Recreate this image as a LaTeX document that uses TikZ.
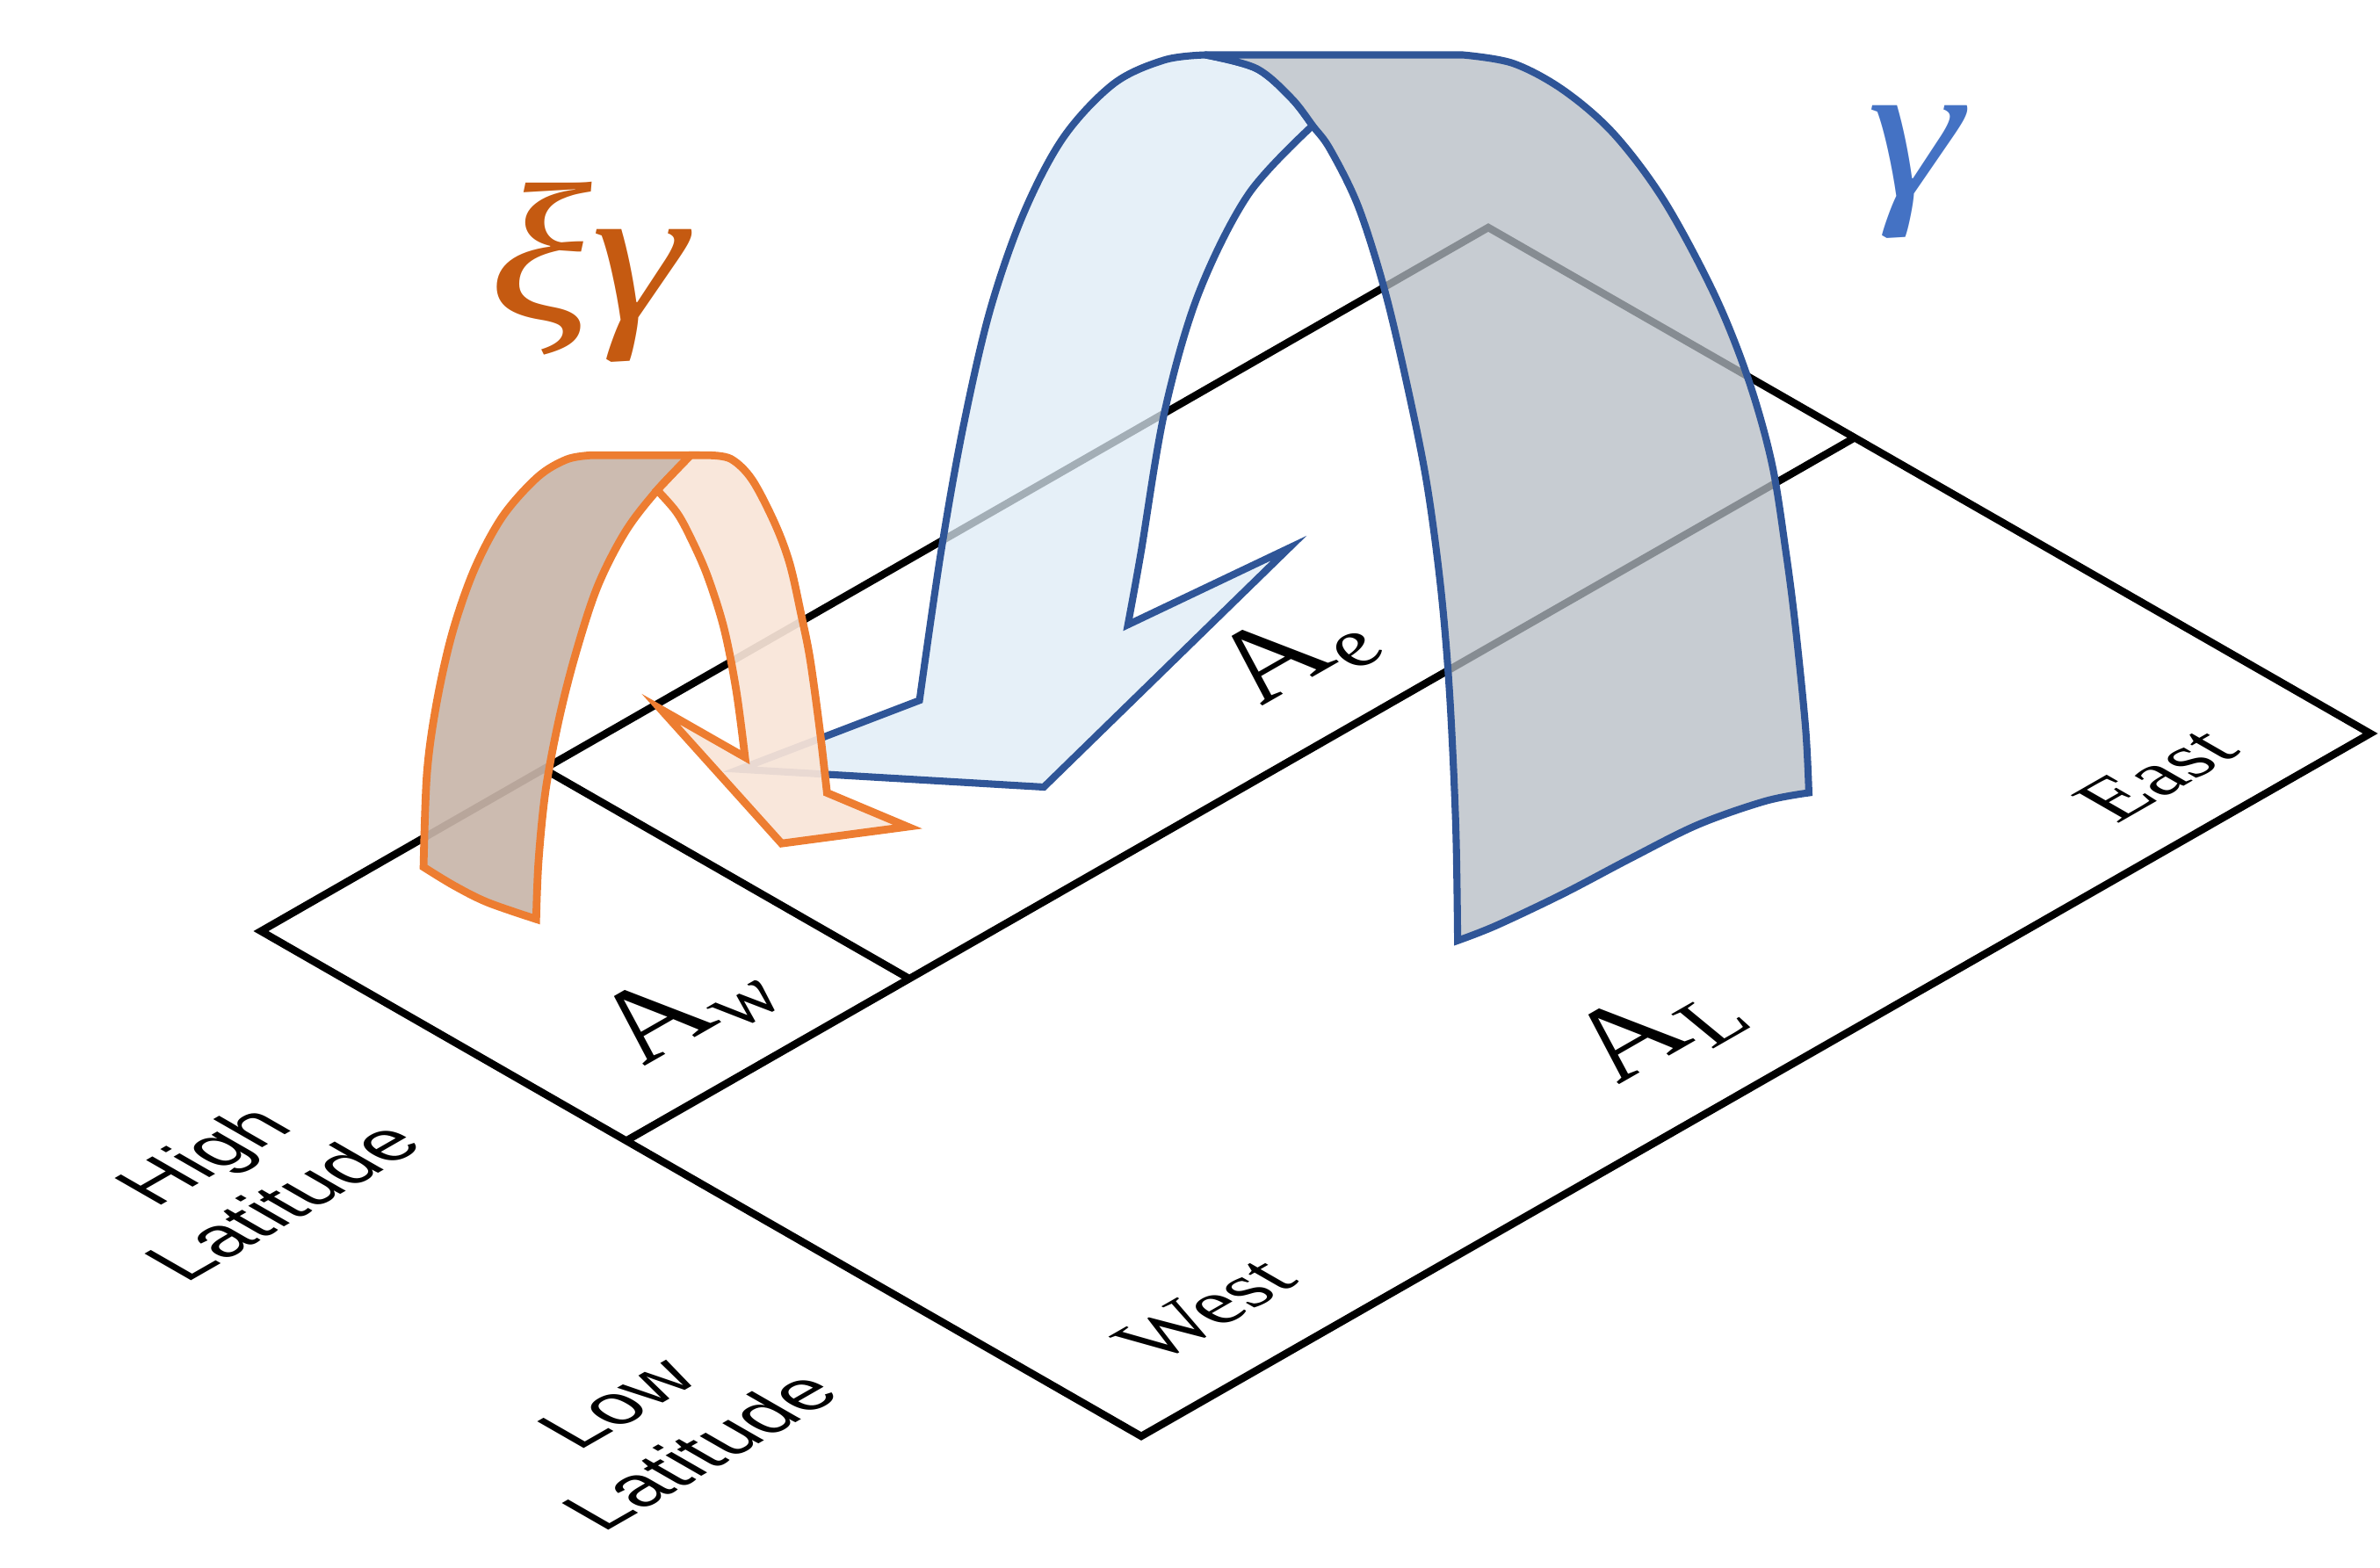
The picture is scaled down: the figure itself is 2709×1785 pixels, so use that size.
\documentclass[tikz,border=0pt]{standalone}
\usepackage{fontspec}
\newfontfamily\arialfont{Liberation Sans}
\newfontfamily\tnrfont{Liberation Serif}
\definecolor{bluel}{RGB}{47,85,151}
\definecolor{bluefill}{RGB}{221,235,246}
\definecolor{grayfill}{RGB}{180,187,195}
\definecolor{orangel}{RGB}{237,125,49}
\definecolor{brownfill}{RGB}{200,181,169}
\definecolor{peachfill}{RGB}{249,229,216}
\definecolor{xicol}{RGB}{197,90,17}
\definecolor{gamcol}{RGB}{68,114,196}
\newcommand{\areasub}[2]{#1\kern0.02em\raisebox{-0.14em}{\fontsize{29}{30}\selectfont #2}}
\tikzset{
  plane/.style={line width=2.4pt, draw=black, line join=miter},
  blueribbon/.style={draw=bluel, line width=2.3pt, line join=miter},
  orangeribbon/.style={draw=orangel, line width=2.5pt, line join=miter},
  onplane/.style={cm={0.868,0.497,-0.867,0.498,(0,0)}, inner sep=0pt, anchor=base},
  sanslab/.style={onplane, font=\arialfont\fontsize{25.2}{30}\selectfont},
  seriflab/.style={onplane, font=\tnrfont\fontsize{27.3}{32}\selectfont},
  arealab/.style={onplane, font=\tnrfont\itshape\fontsize{43}{48}\selectfont},
  greeklab/.style={inner sep=0pt, anchor=base, xscale=1.22, font=\tnrfont\itshape\fontsize{64}{72}\selectfont},
}
\begin{document}
\begin{tikzpicture}[x=0.01cm, y=-0.01cm]
\useasboundingbox (0,0) rectangle (2709,1785);
% plane corners
\coordinate (PL) at (297,1060);
\coordinate (PB) at (1299,1635);
\coordinate (PR) at (2698,835);
\coordinate (PT) at (1694,259);
\coordinate (Q1) at (712.8,1298.6);
\coordinate (Q2) at (2111.5,498);
\coordinate (S1) at (619,875.4);
\coordinate (S2) at (1034.8,1114);
\draw[plane] (PL) -- (PB) -- (PR) -- (PT) -- cycle;
\draw[plane] (Q1) -- (Q2);
\draw[plane] (S1) -- (S2);

% blue ribbon: front (light) part with arrow head
\path[blueribbon, fill=bluefill, fill opacity=0.74]
  (1046.6,797.3)
  -- plot[smooth, tension=0.55] coordinates {(1046.6,797.3) (1070.8,630) (1095.7,489.2) (1126.3,355.3) (1164.5,244.3) (1210.5,156.3) (1267.9,95.1) (1325.3,68.3) (1372,62.5)}
  -- plot[smooth, tension=0.55] coordinates {(1372,62.5) (1430,78) (1470,112) (1494,143)}
  -- plot[smooth, tension=0.55] coordinates {(1494,143) (1420.9,221.3) (1363.5,336.1) (1325.3,470) (1298.5,630) (1283.8,711.2)}
  -- (1467,624) -- (1188.1,896) -- (841.8,875.7) -- cycle;
% blue ribbon: back (grey) part
\path[blueribbon, fill=grayfill, fill opacity=0.75]
  (1372,62.5) -- (1664.8,62.5)
  -- plot[smooth, tension=0.55] coordinates {(1664.8,62.5) (1722.2,72.1) (1779.6,102.7) (1837,152.5) (1894.4,229) (1951.8,336.1) (1990,431.8) (2016.8,527.5) (2033,630) (2043.6,713.1) (2055.1,827.9) (2058.9,902.5)}
  -- plot[smooth, tension=0.55] coordinates {(2058.9,902.5) (2009.2,912) (1932.7,938.8) (1856.1,977.1) (1779.6,1017.3) (1703.1,1053.6) (1659.1,1070.8)}
  -- plot[smooth, tension=0.55] coordinates {(1659.1,1070.8) (1657,940) (1650,790) (1640,670) (1624,550) (1602,440) (1576,330) (1546,235) (1514,170) (1494,143) (1470,112) (1430,78) (1372,62.5)}
  -- cycle;

% orange ribbon: back (brown) part
\path[orangeribbon, fill=brownfill, fill opacity=0.92]
  (482.1,987)
  -- plot[smooth, tension=0.55] coordinates {(482.1,987) (486,880) (497,800) (515,720) (540,648) (572,588) (612,543) (645,523) (672,518.3)}
  -- (786,518.3)
  -- plot[smooth, tension=0.55] coordinates {(786,518.3) (748,558) (712,605) (680,668) (655,745) (636,820) (621,900) (613,980) (610.3,1046.3)}
  -- plot[smooth, tension=0.55] coordinates {(610.3,1046.3) (554.8,1027.2) (516.5,1008) (482.1,987)}
  -- cycle;
% orange ribbon: front (peach) part with arrow head
\path[orangeribbon, fill=peachfill, fill opacity=0.92]
  (786,518.3) -- (807,518.3)
  -- plot[smooth, tension=0.55] coordinates {(807,518.3) (832,522.5) (856,546) (882,596) (899,642) (912,700) (922,750) (933,830) (941.3,902.5)}
  -- (1033.1,941.1) -- (889.6,960.2) -- (751.9,807.2) -- (848,862)
  -- plot[smooth, tension=0.55] coordinates {(848,862) (838,786) (824,715) (805,655) (786,612) (770,583) (748,558)}
  -- plot[smooth, tension=0.55] coordinates {(748,558) (767,538) (786,518.3)}
  -- cycle;

% labels
\node[greeklab, text=xicol] (xig) at (669,364) {ξγ};
\node[greeklab, text=gamcol] (gam) at (2180,224) {γ};
\node[arealab] (Aw) at (812.2,1168.4) {\areasub{A}{w}};
\node[arealab] (Ae) at (1505.2,765) {\areasub{A}{e}};
\node[arealab] (AL) at (1916.8,1192.6) {\areasub{A}{L}};
\node[seriflab] (east) at (2480.8,897.3) {East};
\node[seriflab] (west) at (1398.6,1506.3) {West};
\node[sanslab] (high1) at (256.8,1330.2) {High};
\node[sanslab] (high2) at (348.1,1382.7) {Latitude};
\node[sanslab] (low1) at (728.8,1612.3) {Low};
\node[sanslab] (low2) at (823.6,1666.7) {Latitude};
\end{tikzpicture}
\end{document}
